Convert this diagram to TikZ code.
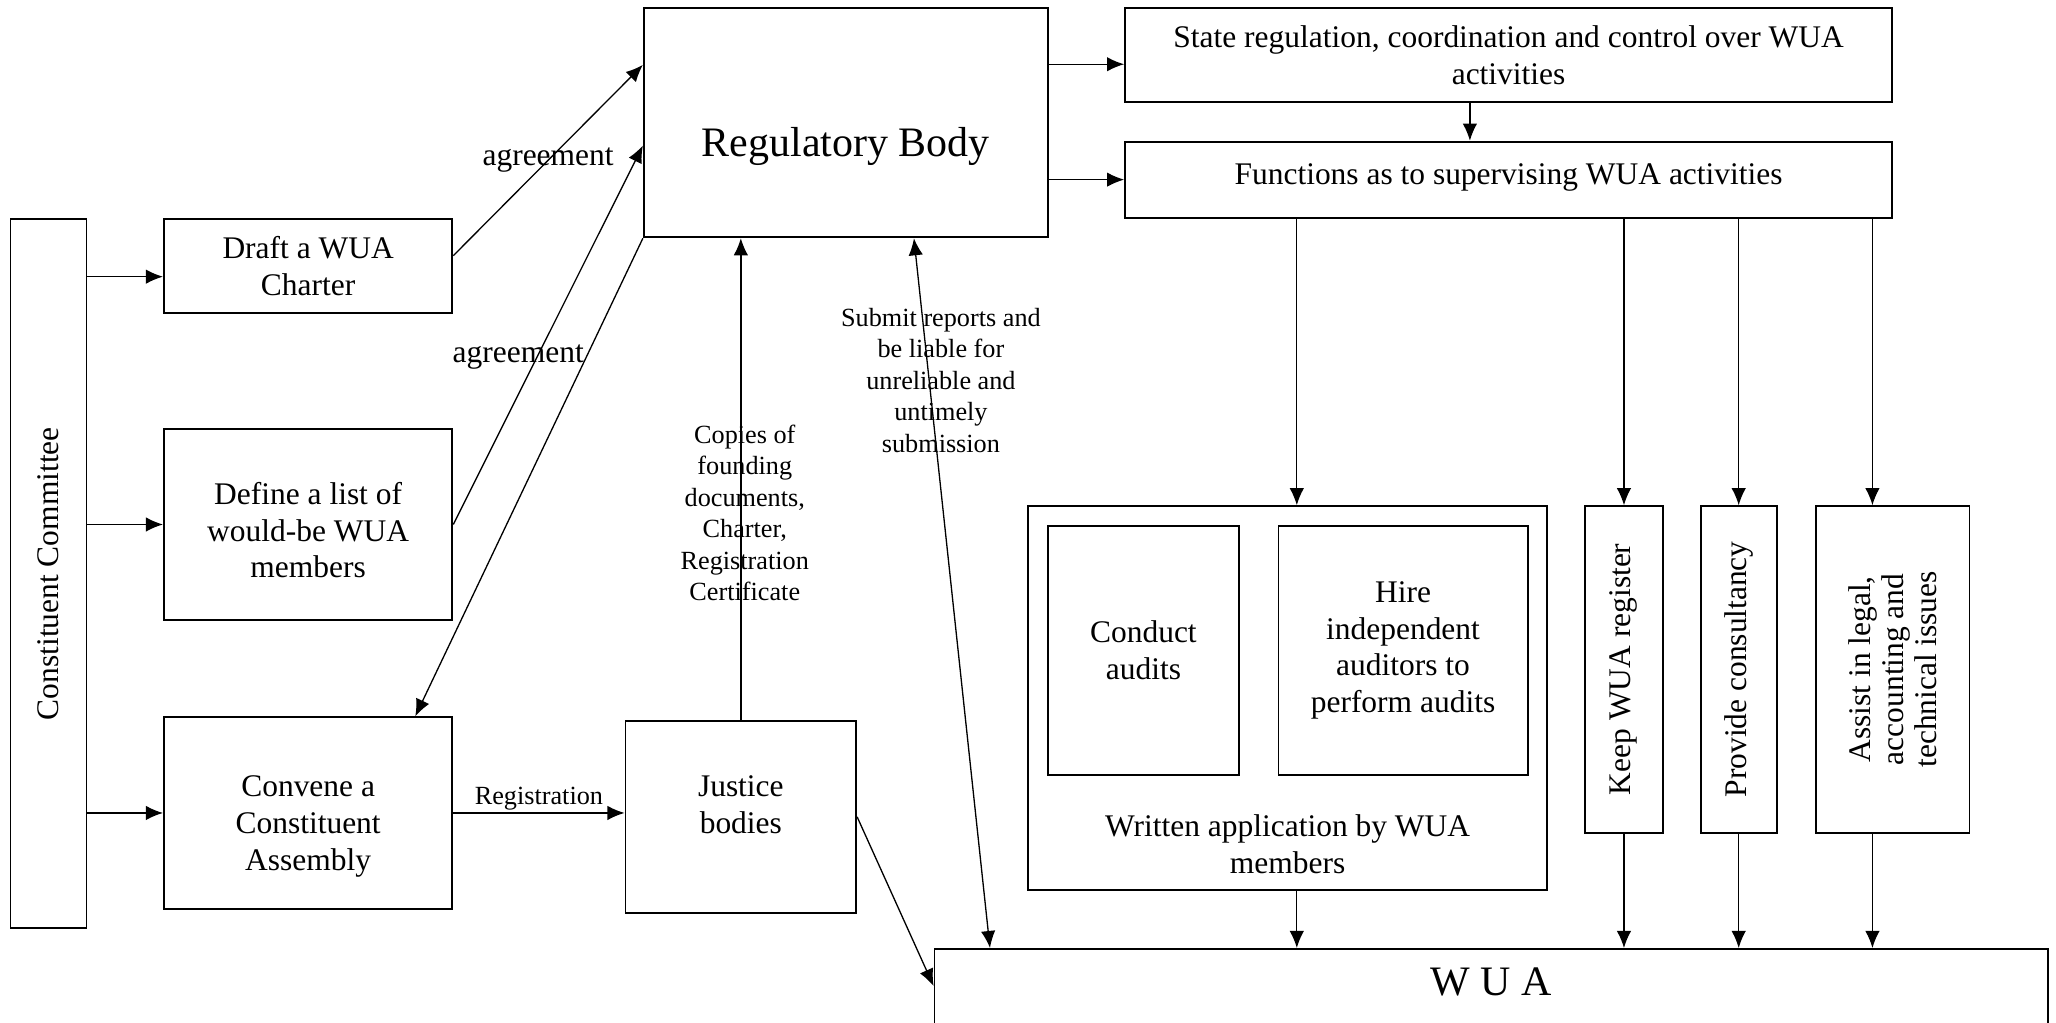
\documentclass[tikz,border=0pt]{standalone}
\usepackage{fontspec}
\setmainfont{Liberation Serif}
\usetikzlibrary{arrows.meta}
\newcommand{\shifttext}[2]{\raisebox{#1}[\height][\depth]{\begin{tabular}{@{}c@{}}#2\end{tabular}}}

\begin{document}
\begin{tikzpicture}[->,>={Latex[length=6.5pt,width=5.5pt]},x=0.5pt,y=-0.5pt,line width=0.5pt]
    \tikzset{box/.style={draw, rectangle, line width=0.7pt, inner sep=2pt, align=center, font=\fontsize{12}{14}\selectfont},
             lbl/.style={align=center, inner sep=1pt, font=\fontsize{10}{12}\selectfont},
             agr/.style={inner sep=1pt, font=\fontsize{12}{14}\selectfont}}
    \useasboundingbox (0,0) rectangle (1568,780);
    \node[box, rotate=90, minimum width=270.5pt, minimum height=29pt] (cc) at (37,437.5) {Constituent Committee};
    \node[box, minimum width=110pt, minimum height=36pt] (draft) at (235,203) {Draft a WUA\\Charter};
    \node[box, minimum width=110pt, minimum height=73pt] (define) at (235,400) {\shifttext{-3.5pt}{Define a list of\\would-be WUA\\members}};
    \node[box, minimum width=110pt, minimum height=73pt] (convene) at (235,620) {\shifttext{-5pt}{Convene a\\Constituent\\Assembly}};
    \node[box, minimum width=154pt, minimum height=87.5pt, font=\fontsize{16}{19}\selectfont] (rb) at (645,93.5) {\shifttext{-9pt}{Regulatory Body}};
    \node[box, minimum width=88pt, minimum height=73pt] (justice) at (565,623) {\shifttext{3.5pt}{Justice\\bodies}};
    \node[box, minimum width=292.5pt, minimum height=36pt] (state) at (1150.5,42) {State regulation, coordination and control over WUA\\activities};
    \node[box, minimum width=292.5pt, minimum height=29pt] (functions) at (1150.5,137) {\shifttext{1pt}{Functions as to supervising WUA activities}};
    \node[box, minimum width=198pt, minimum height=146.5pt,
          label={[anchor=south, align=center, yshift=3pt, font=\fontsize{12}{14}\selectfont]south:Written application by WUA\\members}] (written) at (982,532.5) {};
    \node[box, minimum width=73pt, minimum height=95pt] (conduct) at (872,496) {Conduct\\audits};
    \node[box, minimum width=95pt, minimum height=95pt] (hire) at (1070,496) {Hire\\independent\\auditors to\\perform audits};
    \node[box, rotate=90, minimum width=124.5pt, minimum height=29.5pt] (keep) at (1238.5,510.5) {Keep WUA register};
    \node[box, rotate=90, minimum width=124.5pt, minimum height=29pt] (provide) at (1326,510.5) {Provide consultancy};
    \node[box, rotate=90, minimum width=124.5pt, minimum height=58.5pt, font=\fontsize{12}{12.5}\selectfont] (assist) at (1443.5,510.5) {Assist in legal,\\accounting and\\technical issues};
    \node[box, anchor=north west, minimum width=424.5pt, minimum height=60pt,
          label={[anchor=north, yshift=-4pt, font=\fontsize{16}{19}\selectfont]north:W U A}] (wua) at (712,723) {};

    \path ([yshift=-4pt]draft.west -| cc.south) edge ([yshift=-4pt]draft.west);
    \path (cc.south |- define.west) edge (define.west);
    \path (cc.south |- convene.west) edge (convene.west);
    \path ([yshift=4pt]draft.east) edge node[agr, midway] {agreement} ([yshift=22pt]rb.west);
    \path (define.east) edge node[agr, pos=0.46, xshift=-8.5pt, yshift=-2.5pt] {agreement} ([yshift=-8.75pt]rb.west);
    \path (rb.south west) edge ([xshift=-14.5pt]convene.north east);
    \path (convene.east) edge node[lbl, above] {Registration} (convene.east -| justice.west);
    \path (justice.north) edge node[lbl, pos=0.43, xshift=1.5pt] {Copies of\\founding\\documents,\\Charter,\\Registration\\Certificate} (justice.north |- rb.south);
    \path (justice.east) edge ([yshift=-14.5pt]wua.north west);
    \path ([xshift=26pt]rb.south) edge[<->] node[lbl, pos=0.2, xshift=4.5pt] {Submit reports and\\be liable for\\unreliable and\\untimely\\submission} ([xshift=21.5pt]wua.north west);
    \path ([yshift=-3.5pt]rb.east |- state.west) edge ([yshift=-3.5pt]state.west);
    \path (rb.east |- functions.west) edge (functions.west);
    \path ([xshift=-14.75pt]state.south) edge ([xshift=-14.75pt]state.south |- functions.north);
    \path ([xshift=3.5pt]written.north |- functions.south) edge ([xshift=3.5pt]written.north);
    \path (keep.east |- functions.south) edge (keep.east);
    \path (provide.east |- functions.south) edge (provide.east);
    \path ([xshift=-7.75pt]assist.east |- functions.south) edge ([xshift=-7.75pt]assist.east);
    \path ([xshift=3.5pt]written.south) edge ([xshift=3.5pt]written.south |- wua.north);
    \path (keep.west) edge (keep.west |- wua.north);
    \path (provide.west) edge (provide.west |- wua.north);
    \path ([xshift=-7.75pt]assist.west) edge ([xshift=-7.75pt]assist.west |- wua.north);
\end{tikzpicture}
\end{document}
